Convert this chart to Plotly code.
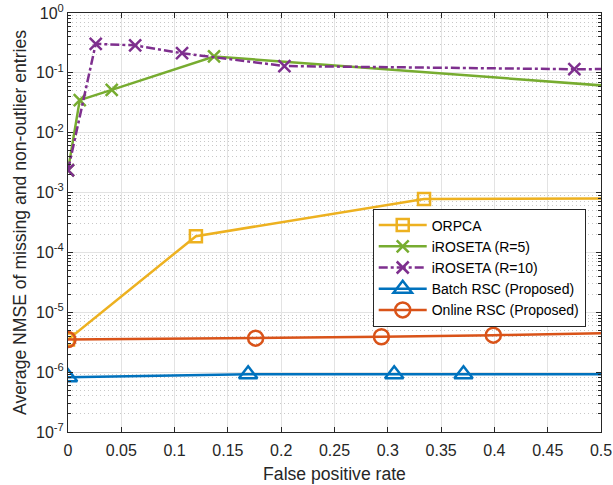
import plotly.graph_objects as go

# False positive rate (x) and average NMSE (y) for each method
orpca_x = [0.0, 0.12, 0.334, 0.6]
orpca_y = [3.5e-6, 1.87e-4, 7.8e-4, 8.1e-4]

ir5_x = [0.0, 0.011, 0.041, 0.137, 0.55]
ir5_y = [2.36e-3, 0.035, 0.052, 0.188, 0.053]

ir10_x = [0.0, 0.026, 0.063, 0.107, 0.203, 0.475, 0.6]
ir10_y = [2.36e-3, 0.305, 0.288, 0.213, 0.130, 0.115, 0.118]

batch_x = [0.0, 0.169, 0.306, 0.371, 0.6]
batch_y = [8.2e-7, 9.2e-7, 9.2e-7, 9.2e-7, 9.3e-7]

online_x = [0.0, 0.176, 0.294, 0.399, 0.6]
online_y = [3.5e-6, 3.7e-6, 3.9e-6, 4.15e-6, 4.8e-6]

x_ticks = [0, 0.05, 0.1, 0.15, 0.2, 0.25, 0.3, 0.35, 0.4, 0.45, 0.5]
x_labels = ["0", "0.05", "0.1", "0.15", "0.2", "0.25", "0.3", "0.35", "0.4", "0.45", "0.5"]
y_exps = [0, -1, -2, -3, -4, -5, -6, -7]

FONT = "Liberation Sans, Arial, Helvetica, sans-serif"
TXT = "#262626"

series = [
    ("ORPCA", orpca_x, orpca_y, "#EDB120", "solid", "square-open", 12),
    ("iROSETA (R=5)", ir5_x, ir5_y, "#77AC30", "solid", "x-thin-open", 12),
    ("iROSETA (R=10)", ir10_x, ir10_y, "#7E2F8E", "dashdot", "x-thin-open", 12),
    ("Batch RSC (Proposed)", batch_x, batch_y, "#0072BD", "solid", "triangle-up-open", 16),
    ("Online RSC (Proposed)", online_x, online_y, "#D95319", "solid", "circle-open", 15),
]

fig = go.Figure()
for name, xs, ys, color, dash, sym, size in series:
    fig.add_trace(go.Scatter(
        x=xs, y=ys, name=name, mode="lines+markers",
        line=dict(color=color, width=2.5, dash=dash),
        marker=dict(symbol=sym, size=size, color=color,
                    line=dict(color=color, width=2.5)),
        cliponaxis=True,
    ))

minor_vals = [m * 10.0 ** e for e in range(-7, 0) for m in range(2, 10)]

fig.update_layout(
    width=613, height=485,
    margin=dict(l=68, r=12, t=13, b=53),
    paper_bgcolor="white", plot_bgcolor="white",
    font=dict(family=FONT, size=16, color=TXT),
    showlegend=True,
    legend=dict(
        x=0.5717, y=0.3926, xanchor="left", yanchor="middle",
        bgcolor="white", bordercolor="#262626", borderwidth=1,
        font=dict(family=FONT, size=14, color="black"),
        tracegroupgap=0, itemwidth=48,
    ),
    xaxis=dict(
        range=[0, 0.5], tickmode="array", tickvals=x_ticks, ticktext=x_labels,
        showline=True, linecolor="#262626", linewidth=1, mirror="ticks",
        ticks="inside", ticklen=5, tickcolor="#262626",
        showgrid=True, gridcolor="#e3e3e3", gridwidth=1,
        zeroline=False, automargin=False, ticklabelstandoff=4,
        title=dict(text="False positive rate", font=dict(size=17.6), standoff=9),
        tickfont=dict(size=16),
    ),
    yaxis=dict(
        type="log", range=[-7, 0], tickmode="array",
        tickvals=[10.0 ** e for e in y_exps],
        ticktext=["10<sup>%d</sup>" % e for e in y_exps],
        showline=True, linecolor="#262626", linewidth=1, mirror="ticks",
        ticks="inside", ticklen=5, tickcolor="#262626",
        showgrid=True, gridcolor="#e3e3e3", gridwidth=1,
        zeroline=False, automargin=False,
        minor=dict(tickmode="array", tickvals=minor_vals, ticks="inside",
                   ticklen=3, tickcolor="#262626", showgrid=True,
                   gridcolor="#c8c8c8", griddash="1px,3px", gridwidth=1),
        title=dict(text="Average NMSE of missing and non-outlier entries",
                   font=dict(size=17.6), standoff=4),
        tickfont=dict(size=16),
    ),
)

fig.write_html("out.html")
